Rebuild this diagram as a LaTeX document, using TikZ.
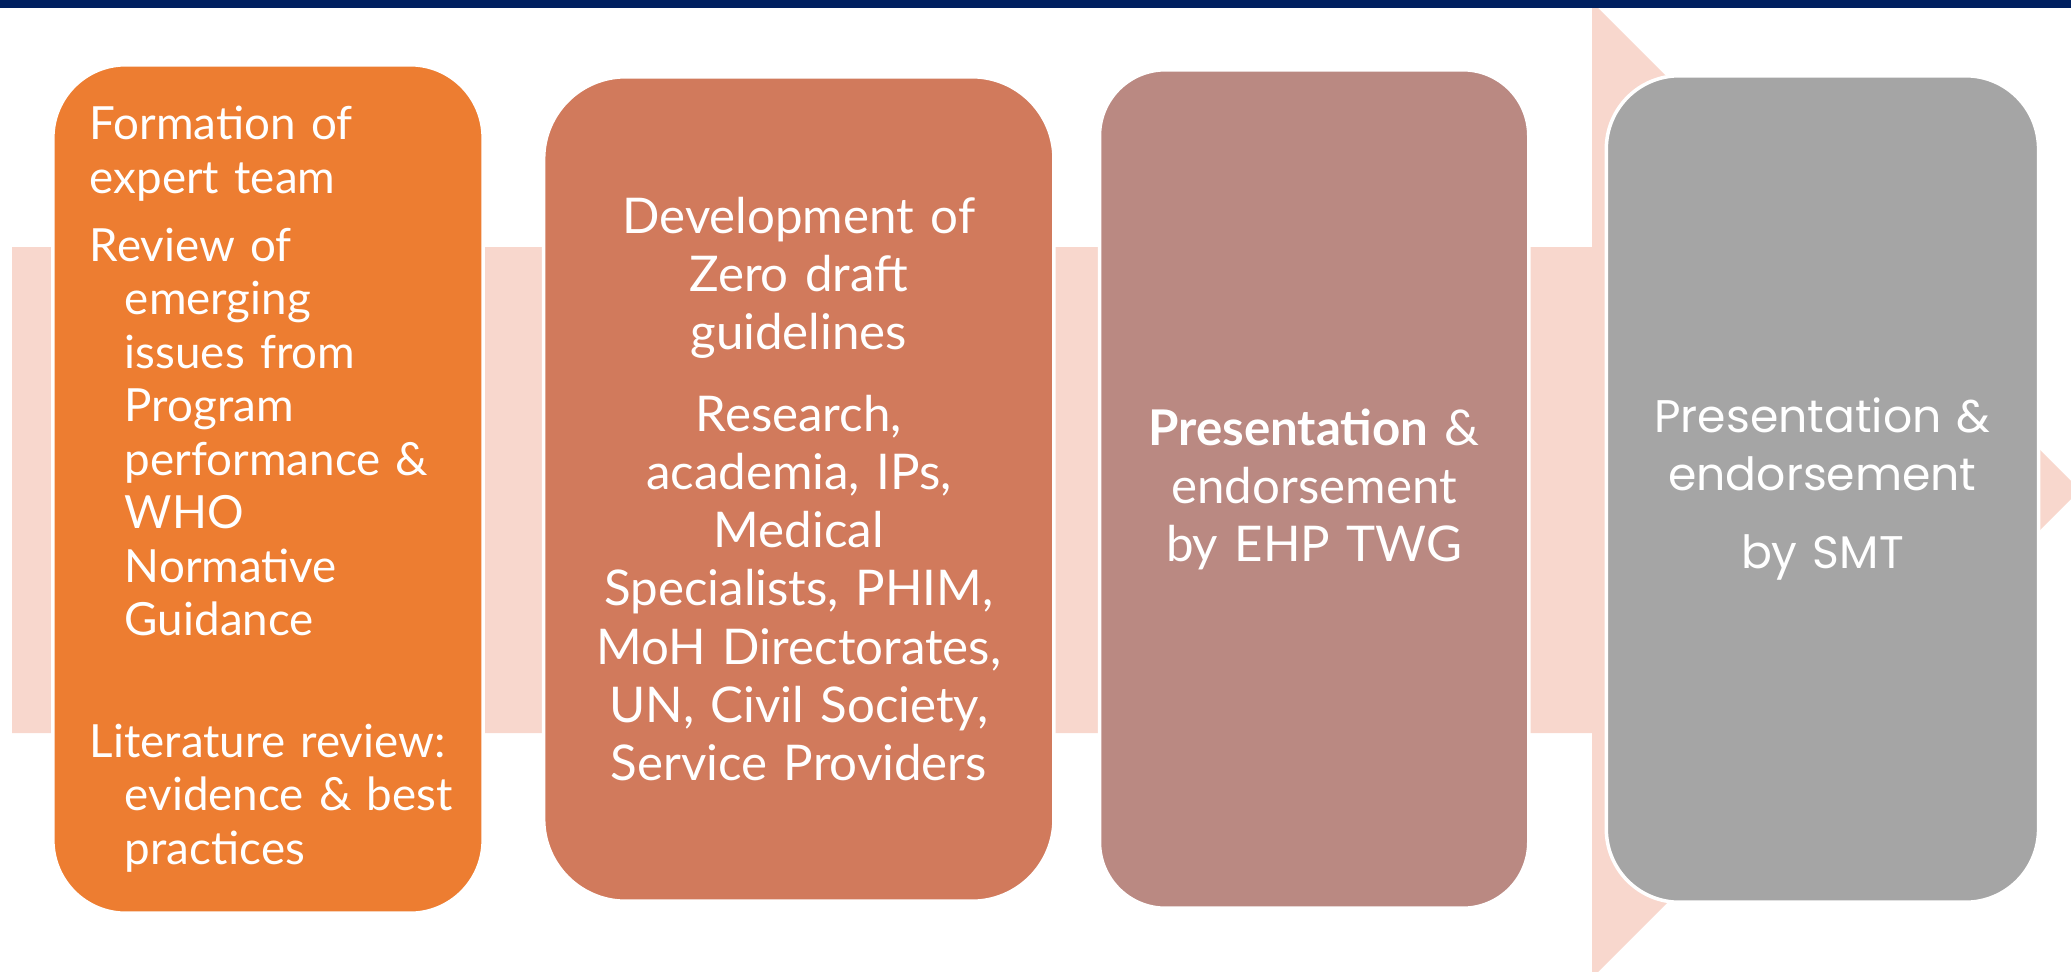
\documentclass[tikz,border=0pt]{standalone}
\usepackage{fontspec}
\setmainfont{Lato}
\newfontfamily\gothicfont{Poppins}
\usetikzlibrary{positioning}

\definecolor{navy}{RGB}{0,32,96}
\definecolor{arrowpink}{RGB}{248,215,205}
\definecolor{stepone}{RGB}{237,125,49}
\definecolor{steptwo}{RGB}{209,122,92}
\definecolor{stepthree}{RGB}{186,137,130}
\definecolor{stepfour}{RGB}{165,165,165}

\tikzset{
  stepbox/.style={draw=white, line width=1pt, text=white, inner ysep=0pt, inner xsep=0.3cm},
  bodytext/.style={font=\fontsize{13}{15.2}\selectfont},
}

\begin{document}
\begin{tikzpicture}[x=0.01cm, y=-0.01cm]
  \useasboundingbox (0,0) rectangle (2071,972);
  \clip (0,0) rectangle (2071,972);

  % big arrow behind the steps
  \fill[arrowpink] (12,247) -- (1592,247) -- (1592,2) -- (2080,490) -- (1592,978) -- (1592,733) -- (12,733) -- cycle;

  \node[stepbox, bodytext, fill=stepone, rounded corners=0.73cm, minimum height=8.48cm, text width=3.56cm, inner xsep=0.37cm, align=left] (expert) at (268,489)
    {Formation of\\expert team\\[0.15cm]Review of\\\hspace*{0.35cm}emerging\\\hspace*{0.35cm}issues from\\\hspace*{0.35cm}Program\\\hspace*{0.35cm}performance \&\\\hspace*{0.35cm}WHO\\\hspace*{0.35cm}Normative\\\hspace*{0.35cm}Guidance\\[0.68cm]Literature review:\\\hspace*{0.35cm}\mbox{evidence \& best}\\\hspace*{0.35cm}practices};
  \node[stepbox, font=\fontsize{14}{16.5}\selectfont, fill=steptwo, rounded corners=0.82cm, minimum height=8.24cm, text width=4.5cm, align=center, right=0.57cm of expert] (draft)
    {Development of\\Zero draft\\guidelines\\[0.24cm]Research,\\academia, IPs,\\Medical\\Specialists, PHIM,\\MoH Directorates,\\UN, Civil Society,\\Service Providers};
  \node[stepbox, font=\fontsize{14}{16.5}\selectfont, fill=stepthree, rounded corners=0.66cm, minimum height=8.38cm, text width=3.69cm, align=center, right=0.42cm of draft] (twg)
    {\textbf{Presentation} \&\\endorsement\\by EHP TWG};
  \node[stepbox, font=\gothicfont\fontsize{13}{16.5}\selectfont, fill=stepfour, rounded corners=0.73cm, minimum height=8.26cm, text width=3.72cm, align=center, right=0.74cm of twg] (smt)
    {Presentation \&\\endorsement\\[0.2cm]by SMT};

  \fill[navy] (0,0) rectangle (2071,8);
\end{tikzpicture}
\end{document}
